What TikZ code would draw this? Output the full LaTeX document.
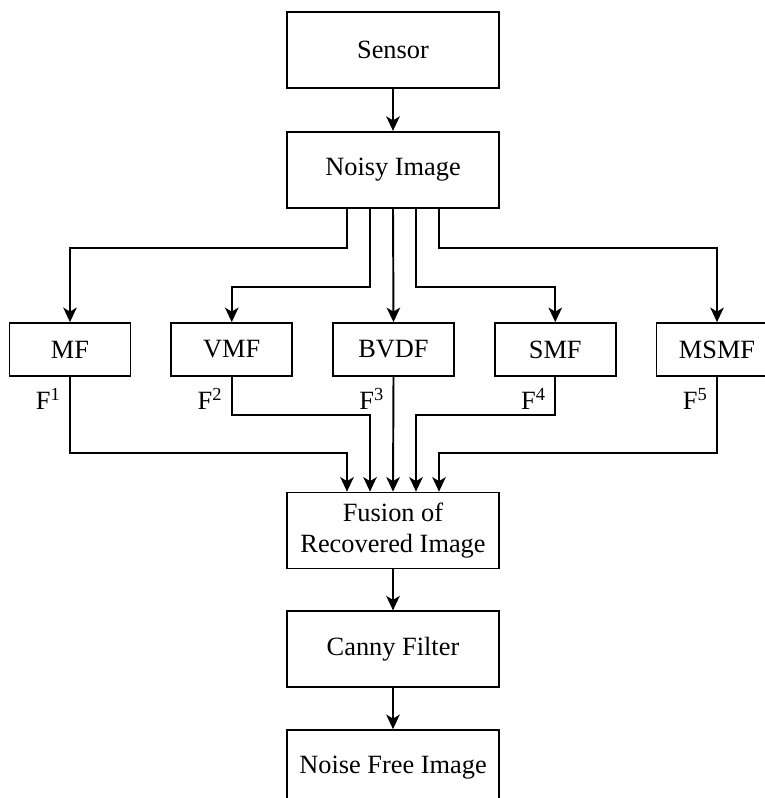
\documentclass[tikz,border=0pt]{standalone}
\usepackage{fontspec}
\setmainfont{Liberation Serif}
\usepackage{tikz}
\usetikzlibrary{arrows.meta,positioning}

\begin{document}
\begin{tikzpicture}[
  block/.style={
    draw, line width=1pt, align=center,
    minimum width=4.24cm, minimum height=1.52cm, font=\fontsize{15}{18}\selectfont
  },
  filter/.style={
    draw, line width=1pt, align=center,
    minimum width=2.42cm, minimum height=1.06cm, font=\fontsize{15}{18}\selectfont
  },
  flab/.style={font=\fontsize{15}{18}\selectfont, inner sep=0pt},
  arrow/.style={-{Stealth[length=2.9mm,width=2.7mm,inset=0.8mm]}, line width=1.1pt}
]
\useasboundingbox (0,0) rectangle (15.3,-15.96);

\node[block] (sensor) at (7.86,-1.0) {Sensor};
\node[block, below=0.84cm of sensor] (noisy) {Noisy Image};

\node[filter] (bvdf) at (7.87,-6.99) {BVDF};
\node[filter, left=0.78cm of bvdf] (vmf) {VMF};
\node[filter, left=0.78cm of vmf] (mf) {MF};
\node[filter, right=0.78cm of bvdf] (smf) {SMF};
\node[filter, right=0.78cm of smf] (msmf) {MSMF};

\node[flab, below left=0.22cm and 0.18cm of mf.south, anchor=north east] (f1) {F\textsuperscript{1}};
\node[flab, below left=0.22cm and 0.18cm of vmf.south, anchor=north east] (f2) {F\textsuperscript{2}};
\node[flab, below left=0.22cm and 0.18cm of bvdf.south, anchor=north east] (f3) {F\textsuperscript{3}};
\node[flab, below left=0.22cm and 0.18cm of smf.south, anchor=north east] (f4) {F\textsuperscript{4}};
\node[flab, below left=0.22cm and 0.18cm of msmf.south, anchor=north east] (f5) {F\textsuperscript{5}};

\node[block] (fusion) at (7.86,-10.61) {Fusion of\\Recovered Image};
\node[block, below=0.82cm of fusion] (canny) {Canny Filter};
\node[block, below=0.82cm of canny] (clean) {Noise Free Image};

\draw[arrow] (sensor) -- (noisy);

% noisy image to the filters
\draw[arrow] ([xshift=-0.92cm]noisy.south) -- ++(0,-0.78) -| (mf.north);
\draw[arrow] ([xshift=-0.46cm]noisy.south) -- ++(0,-1.56) -| (vmf.north);
\draw[arrow] (noisy.south) -- (bvdf.north);
\draw[arrow] ([xshift=0.46cm]noisy.south) -- ++(0,-1.56) -| (smf.north);
\draw[arrow] ([xshift=0.92cm]noisy.south) -- ++(0,-0.78) -| (msmf.north);

% filters to fusion
\draw[arrow] (mf.south) -- ++(0,-1.52) -| ([xshift=-0.92cm]fusion.north);
\draw[arrow] (vmf.south) -- ++(0,-0.76) -| ([xshift=-0.46cm]fusion.north);
\draw[arrow] (bvdf.south) -- (fusion.north);
\draw[arrow] (smf.south) -- ++(0,-0.76) -| ([xshift=0.46cm]fusion.north);
\draw[arrow] (msmf.south) -- ++(0,-1.52) -| ([xshift=0.92cm]fusion.north);

\draw[arrow] (fusion) -- (canny);
\draw[arrow] (canny) -- (clean);
\end{tikzpicture}
\end{document}
